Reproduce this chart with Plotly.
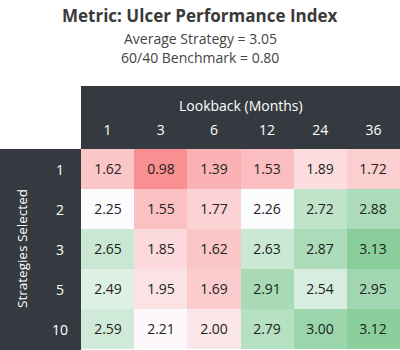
import plotly.graph_objects as go
import numpy as np

lookbacks = ["1", "3", "6", "12", "24", "36"]
strategies = ["1", "2", "3", "5", "10"]
vals_1 = [1.62, 0.98, 1.39, 1.53, 1.89, 1.72]
vals_2 = [2.25, 1.55, 1.77, 2.26, 2.72, 2.88]
vals_3 = [2.65, 1.85, 1.62, 2.63, 2.87, 3.13]
vals_5 = [2.49, 1.95, 1.69, 2.91, 2.54, 2.95]
vals_10 = [2.59, 2.21, 2.00, 2.79, 3.00, 3.12]
title = "Metric: Ulcer Performance Index"
sub1 = "Average Strategy = 3.05"
sub2 = "60/40 Benchmark = 0.80"

z = [vals_1, vals_2, vals_3, vals_5, vals_10]
arr = np.array(z)
zmin, zmax = arr.min(), arr.max()
mid = (np.median(arr) - zmin) / (zmax - zmin)

DARK = "#343a40"
W, H = 400, 350
L, T, B = 81, 149, 1
pw, ph = W - L, H - T - B

def px_x(p):
    return (p - L) / pw

def px_y(p):
    return (H - B - p) / ph

fig = go.Figure(go.Heatmap(
    z=z, x=lookbacks, y=strategies,
    colorscale=[[0, "rgb(249,143,144)"], [mid, "rgb(252,252,255)"], [1, "rgb(138,206,156)"]],
    zmin=zmin, zmax=zmax, showscale=False,
    texttemplate="%{z:.2f}", textfont=dict(size=14, color="#222222", family="Open Sans"),
    hoverinfo="skip", xgap=0, ygap=0,
))

annotations = [
    dict(text="<b>" + title + "</b>", xref="paper", yref="paper", x=px_x(200), y=px_y(15),
         showarrow=False, font=dict(size=17, color="#3a3a3a"), xanchor="center", yanchor="middle"),
    dict(text=sub1, xref="paper", yref="paper", x=px_x(200), y=px_y(38),
         showarrow=False, font=dict(size=14, color="#444444"), xanchor="center", yanchor="middle"),
    dict(text=sub2, xref="paper", yref="paper", x=px_x(200), y=px_y(58),
         showarrow=False, font=dict(size=14, color="#444444"), xanchor="center", yanchor="middle"),
    dict(text="Lookback (Months)", xref="paper", yref="paper", x=0.5, y=px_y(105),
         showarrow=False, font=dict(size=14, color="white"), xanchor="center", yanchor="middle"),
    dict(text="Strategies Selected", xref="paper", yref="paper", x=px_x(22), y=0.5,
         showarrow=False, textangle=-90, font=dict(size=13.5, color="white"),
         xanchor="center", yanchor="middle"),
]
for i, s in enumerate(strategies):
    annotations.append(dict(text=s, xref="paper", yref="y", x=px_x(59.5), y=i,
                            showarrow=False, font=dict(size=14, color="white"),
                            xanchor="center", yanchor="middle"))

fig.update_layout(
    width=W, height=H, margin=dict(l=L, r=0, t=T, b=B, pad=0),
    paper_bgcolor="white", plot_bgcolor="white",
    font=dict(family="Open Sans", color="#333333"),
    xaxis=dict(type="category", side="top", showgrid=False, zeroline=False, showline=False,
               ticks="outside", ticklen=7, tickcolor=DARK,
               tickfont=dict(size=14, color="white", family="Open Sans"), fixedrange=True),
    yaxis=dict(type="category", categoryorder="array", categoryarray=strategies,
               range=[len(strategies) - 0.5, -0.5], autorange=False,
               showgrid=False, zeroline=False, showline=False,
               showticklabels=False, ticks="", fixedrange=True),
    shapes=[
        dict(type="rect", xref="paper", yref="paper", x0=0, x1=1, y0=1, y1=px_y(86),
             fillcolor=DARK, line_width=0, layer="below"),
        dict(type="rect", xref="paper", yref="paper", x0=px_x(0), x1=0, y0=px_y(351), y1=1,
             fillcolor=DARK, line_width=0, layer="below"),
    ],
    annotations=annotations,
)

fig.write_html("out.html")
